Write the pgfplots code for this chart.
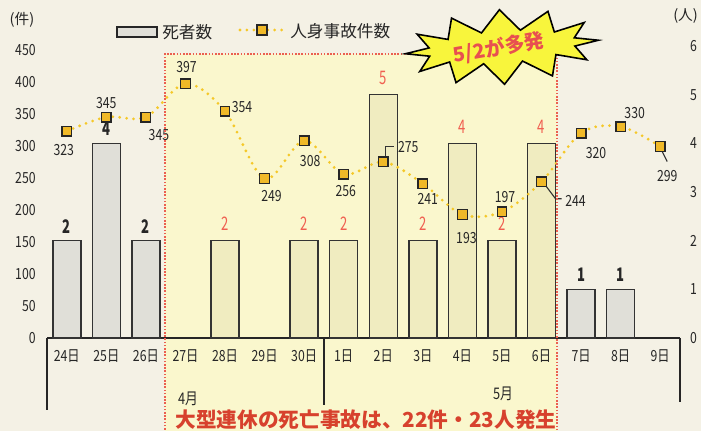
\documentclass[border=0pt]{standalone}
\usepackage{pgfplots}
\pgfplotsset{compat=1.18}
\usepackage{fontspec}
\setmainfont{Noto Sans CJK JP}
\newfontfamily\numf{Noto Sans CJK JP}[FakeStretch=0.8]
\newfontfamily\barf{Noto Sans CJK JP}[FakeStretch=0.7]
\usetikzlibrary{shapes.symbols}

\definecolor{paper}{RGB}{244,241,229}
\definecolor{region}{RGB}{250,247,205}
\definecolor{regionline}{RGB}{235,95,80}
\definecolor{barout}{RGB}{224,223,216}
\definecolor{barin}{RGB}{240,236,192}
\definecolor{lineyel}{RGB}{245,200,40}
\definecolor{mkfill}{RGB}{240,185,40}
\definecolor{redlab}{RGB}{240,95,80}
\definecolor{redtext}{RGB}{215,65,45}
\definecolor{burst}{RGB}{248,245,60}
\definecolor{bursttext}{RGB}{232,80,80}

\pgfplotsset{/pgf/number format/assume math mode=true}

\begin{document}
\begin{tikzpicture}
\useasboundingbox (0,0) rectangle (525.75pt,323.25pt);
\begin{scope}[x=0.75pt,y=-0.75pt,yshift=323.25pt]
  \fill[paper] (-5,-5) rectangle (706,436);
  \fill[region] (165,54) rectangle (557,436);
\end{scope}

% deaths (right axis)
\begin{axis}[
  at={(35.25pt,69.75pt)}, anchor=south west, scale only axis,
  width=474.75pt, height=219pt,
  xmin=-0.5, xmax=15.5, ymin=0, ymax=6,
  axis x line*=bottom, axis y line*=right,
  axis line style={-},
  x axis line style={draw=black!85, line width=1.3pt},
  y axis line style={draw=none},
  xtick={0,...,15},
  xticklabels={24日,25日,26日,27日,28日,29日,30日,1日,2日,3日,4日,5日,6日,7日,8日,9日},
  ytick={0,...,6},
  major tick length=0pt,
  ticklabel style={font=\numf\fontsize{11.5}{12}\selectfont, text=black!85},
  xticklabel style={yshift=-5pt},
  yticklabel style={xshift=4pt},
  ybar, bar width=21pt,
  clip=false,
]
\addplot[bar shift=0pt, fill=barout, draw=black!80, line width=1.1pt,
  nodes near coords,
  every node near coord/.append style={font=\barf\bfseries\fontsize{14}{14}\selectfont, text=black!85, inner sep=1pt, yshift=4pt}]
  coordinates {(0,2) (1,4) (2,2) (13,1) (14,1)};
\addplot[bar shift=0pt, fill=barin, draw=black!80, line width=1.1pt,
  nodes near coords,
  every node near coord/.append style={font=\barf\fontsize{14}{14}\selectfont, text=redlab, inner sep=1pt, yshift=6pt}]
  coordinates {(4,2) (6,2) (7,2) (8,5) (9,2) (10,4) (11,2) (12,4)};
\end{axis}

% accidents (left axis); lx, ly: label offset in px (right, down)
\begin{axis}[
  at={(35.25pt,69.75pt)}, anchor=south west, scale only axis,
  width=474.75pt, height=219pt,
  xmin=-0.5, xmax=15.5, ymin=0, ymax=456,
  axis x line=none, axis y line*=left,
  axis line style={-},
  y axis line style={draw=none},
  ytick={0,50,...,450},
  major tick length=0pt,
  ticklabel style={font=\numf\fontsize{11.5}{12}\selectfont, text=black!85},
  yticklabel style={xshift=-5pt},
  clip=false,
]
\addplot[smooth, tension=0.55, draw=lineyel, line width=2.3pt, line cap=round,
  dash pattern=on 0pt off 5.2pt,
  mark=square*, mark size=3.6pt,
  mark options={solid, fill=mkfill, draw=black!85, line width=1pt},
  visualization depends on={\thisrow{lx} \as \labx},
  visualization depends on={\thisrow{ly} \as \laby},
  nodes near coords,
  every node near coord/.append style={anchor=center, font=\numf\fontsize{11.5}{12}\selectfont,
    text=black!85, xshift={0.75pt*\labx}, yshift={-0.75pt*\laby}}]
  table[x=x, y=y] {
x  y   lx  ly
0  323 -3  19
1  345  0 -14
2  345 13  18
3  397  1 -17
4  354 17  -4
5  249  7  17
6  308  6  20
7  256  2  17
8  275 25 -15
9  241  5  15
10 193  4  24
11 197  3 -15
12 244 34  19
13 320 15  20
14 330 14 -14
15 299  7  30
};
\draw[black!80, line width=0.8pt] (axis cs:8,275) ++(2pt,3.7pt) -- ++(0pt,8pt) -- ++(6pt,0pt);
\draw[black!80, line width=0.8pt] (axis cs:12,244) ++(3.75pt,-3.75pt) -- ++(6.75pt,-9pt) -- ++(4.5pt,0pt);
\draw[black!80, line width=0.8pt] (axis cs:15,299) ++(1.5pt,-3.75pt) -- ++(3.75pt,-7.5pt);
\end{axis}

\begin{scope}[x=0.75pt,y=-0.75pt,yshift=323.25pt]
  \draw[regionline, line width=0.9pt, dash pattern=on 1.2pt off 1.2pt]
    (165,436) -- (165,54) -- (557,54) -- (557,436);
  \draw[black!85, line width=1.1pt] (47,338) -- (47,410) (324,338) -- (324,405) (680,338) -- (680,402);
  % legend
  \draw[black!85, line width=1pt, fill=barout] (117,27) rectangle (157,37);
  \node[anchor=west, font=\fontsize{12.5}{13}\selectfont, text=black!85, inner sep=0pt] at (162,32) {死者数};
  \draw[lineyel, line width=2.3pt, line cap=round, dash pattern=on 0pt off 5.2pt] (240,30) -- (285,30);
  \draw[fill=mkfill, draw=black!85, line width=1pt] (257,25) rectangle (267,35);
  \node[anchor=west, font=\fontsize{12.5}{13}\selectfont, text=black!85, inner sep=0pt] at (290,31) {人身事故件数};
  \node[font=\fontsize{11}{12}\selectfont, text=black!85] at (22,20) {(件)};
  \node[font=\fontsize{11}{12}\selectfont, text=black!85, anchor=west, inner sep=0pt] at (673,16) {(人)};
  % months
  \node[font=\numf\fontsize{12}{12}\selectfont, text=black!85] at (188,399) {4月};
  \node[font=\numf\fontsize{12}{12}\selectfont, text=black!85] at (503,394) {5月};
  \node[font=\bfseries\fontsize{15.5}{16}\selectfont, text=redtext] at (366,420) {大型連休の死亡事故は、22件・23人発生};
  % burst
  \node[starburst, starburst points=12, starburst point height=16pt, random starburst=0,
    fill=burst, draw=black, line width=1.2pt, minimum width=145pt, minimum height=56pt, rotate=4] at (502,47) {};
  \node[rotate=10, text=bursttext, inner sep=0pt, font=\bfseries\fontsize{15}{15}\selectfont] at (499,48) {5/2が多発};
\end{scope}
\end{tikzpicture}
\end{document}
